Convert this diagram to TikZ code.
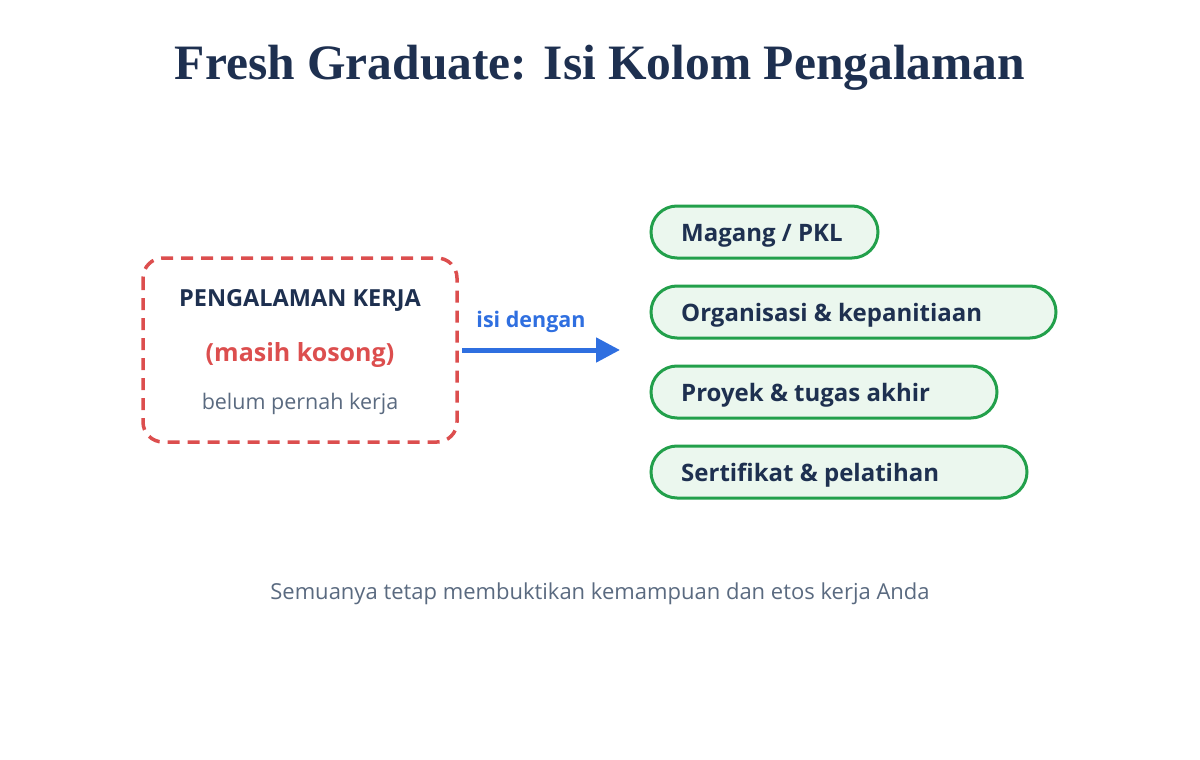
\documentclass[tikz,border=0pt]{standalone}
\usepackage{fontspec}
\setmainfont{Open Sans}
\newfontfamily\titlefont{Liberation Serif}
\usetikzlibrary{arrows.meta}
\definecolor{navy}{HTML}{1E3050}
\definecolor{redd}{HTML}{DC4E4E}
\definecolor{grayt}{HTML}{5A6A80}
\definecolor{blue1}{HTML}{2F6FE0}
\definecolor{greenb}{HTML}{22A04B}
\definecolor{greenf}{HTML}{EBF7EE}
\tikzset{
  pill/.style={draw=greenb, fill=greenf, line width=3pt, rounded corners=26pt},
  pilltext/.style={anchor=base west, inner sep=0pt, text=navy, font=\fontsize{24}{28}\selectfont\bfseries},
}
\begin{document}
\begin{tikzpicture}[x=1pt,y=-1pt]
\useasboundingbox (0,0) rectangle (1200,760);
\node[anchor=base, text=navy, font=\titlefont\fontsize{49.5}{54}\selectfont\bfseries] (title) at (600,80) {Fresh Graduate: Isi Kolom Pengalaman};
\draw[draw=redd, line width=3.5pt, dash pattern=on 12pt off 8pt, rounded corners=20pt] (143,258) rectangle (457,442);
\node[anchor=base, text=navy, font=\fontsize{23.5}{26}\selectfont\bfseries] (pk) at (300,306) {PENGALAMAN KERJA};
\node[anchor=base, text=redd, font=\fontsize{25}{28}\selectfont\bfseries] (mk) at (300,361) {(masih kosong)};
\node[anchor=base, text=grayt, font=\fontsize{21.5}{24}\selectfont] (bp) at (300,409) {belum pernah kerja};
\coordinate (a1) at (462,350);
\coordinate (a2) at (620,350);
\draw[blue1, line width=5pt, -{Triangle[length=24pt,width=24pt]}] (a1) -- (a2);
\node[anchor=base, text=blue1, font=\fontsize{21.5}{24}\selectfont\bfseries] (isi) at (531,327) {isi dengan};
\draw[pill] (651,206) rectangle (878,258);
\draw[pill] (651,286) rectangle (1056,338);
\draw[pill] (651,366) rectangle (997,418);
\draw[pill] (651,446) rectangle (1027,498);
\node[pilltext] (p1) at (681,241) {Magang / PKL};
\node[pilltext] (p2) at (681,321) {Organisasi \& kepanitiaan};
\node[pilltext] (p3) at (681,401) {Proyek \& tugas akhir};
\node[pilltext] (p4) at (681,481) {Sertifikat \& pelatihan};
\node[anchor=base, text=grayt, font=\fontsize{22}{26}\selectfont] (foot) at (600,599) {Semuanya tetap membuktikan kemampuan dan etos kerja Anda};
\end{tikzpicture}
\end{document}
